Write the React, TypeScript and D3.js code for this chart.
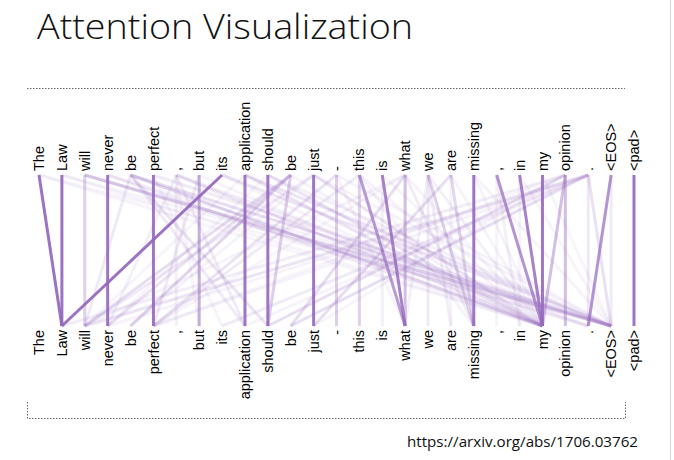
import React, { useEffect, useRef } from "react";
import * as d3 from "d3";

const tokens = [
  "The", "Law", "will", "never", "be", "perfect", ",", "but", "its", "application",
  "should", "be", "just", "-", "this", "is", "what", "we", "are", "missing",
  ",", "in", "my", "opinion", ".", "<EOS>", "<pad>",
];

// [from (top token), to (bottom token), attention weight]
const attention: [number, number, number][] = [
  // faint
  [6, 6, 0.1], [15, 15, 0.1], [18, 18, 0.08], [20, 21, 0.1], [21, 21, 0.08], [20, 20, 0.08],
  [6, 3, 0.1], [16, 2, 0.08], [13, 16, 0.08], [7, 22, 0.08], [8, 22, 0.08], [1, 22, 0.07],
  [0, 22, 0.07], [3, 25, 0.08], [11, 22, 0.08], [16, 22, 0.08], [17, 22, 0.1], [18, 22, 0.08],
  [19, 22, 0.08], [24, 5, 0.08], [23, 5, 0.07], [24, 3, 0.08], [6, 7, 0.07], [14, 19, 0.08],
  [17, 16, 0.1], [5, 8, 0.07], [13, 25, 0.08], [12, 25, 0.08], [10, 25, 0.1], [19, 25, 0.08],
  [1, 25, 0.07], [0, 25, 0.06], [14, 22, 0.08], [15, 22, 0.07], [9, 2, 0.07], [10, 3, 0.07],
  [12, 4, 0.08], [16, 5, 0.07], [21, 25, 0.07], [22, 25, 0.07], [24, 9, 0.08], [23, 12, 0.07],
  // light
  [4, 2, 0.14], [4, 9, 0.13], [14, 5, 0.13], [12, 2, 0.14], [24, 24, 0.15], [25, 25, 0.13],
  [17, 17, 0.14], [16, 19, 0.13], [24, 8, 0.13], [23, 1, 0.12], [3, 22, 0.13], [5, 25, 0.13],
  [6, 24, 0.12], [6, 9, 0.13], [7, 5, 0.14], [17, 18, 0.12],
  // light-medium
  [11, 3, 0.18], [4, 10, 0.18], [13, 5, 0.18], [2, 24, 0.16], [24, 2, 0.18], [6, 22, 0.17],
  [9, 22, 0.18], [10, 22, 0.18], [12, 22, 0.18], [8, 25, 0.17], [9, 25, 0.17],
  [11, 2, 0.22], [16, 11, 0.22], [18, 12, 0.22], [24, 11, 0.22], [23, 10, 0.22], [4, 25, 0.22],
  [24, 25, 0.2],
  // medium
  [2, 2, 0.3], [13, 13, 0.32], [14, 14, 0.3], [2, 25, 0.28], [4, 22, 0.28], [11, 10, 0.32],
  [11, 4, 0.28], [17, 19, 0.3], [18, 19, 0.26],
  [16, 16, 0.42], [23, 23, 0.42], [23, 22, 0.42],
  [7, 7, 0.52],
  // strong
  [14, 16, 0.65], [20, 22, 0.7], [25, 24, 0.7],
  [15, 16, 0.82], [21, 22, 0.82],
  [0, 1, 0.92], [1, 1, 0.92], [3, 3, 0.9], [5, 5, 0.9], [8, 1, 0.92], [9, 9, 0.9],
  [10, 10, 0.9], [12, 12, 0.9], [19, 19, 0.9], [22, 22, 0.9], [26, 26, 0.9],
];

const title = "Attention Visualization";
const source = "https://arxiv.org/abs/1706.03762";

const W = 674;
const H = 460;

export default function App() {
  const ref = useRef<SVGSVGElement>(null);

  useEffect(() => {
    const svg = d3.select(ref.current);
    svg.selectAll("*").remove();

    const x = d3
      .scalePoint<number>()
      .domain(d3.range(tokens.length))
      .range([39, 634]);
    const y = d3.scaleLinear().domain([0, 1]).range([175, 326]);
    const color = "#9467bd";

    svg.append("rect").attr("width", W).attr("height", H).attr("fill", "#fff");

    // right slide edge
    svg
      .append("line")
      .attr("x1", 670.5).attr("x2", 670.5).attr("y1", 0).attr("y2", H)
      .attr("stroke", "#d6d6d6").attr("stroke-width", 1);

    // title
    svg
      .append("text")
      .attr("x", 37)
      .attr("y", 38.5)
      .attr("font-family", "'Open Sans', 'Noto Sans', sans-serif")
      .attr("font-weight", 300)
      .attr("font-size", 34)
      .attr("textLength", 376)
      .attr("lengthAdjust", "spacingAndGlyphs")
      .attr("fill", "#111")
      .text(title);

    // dotted frame
    const dash = "1.5,1.5";
    svg.append("line")
      .attr("x1", 27).attr("x2", 625).attr("y1", 88.5).attr("y2", 88.5)
      .attr("stroke", "#666").attr("stroke-dasharray", dash);
    svg.append("path")
      .attr("d", "M27.5,402 V418.5 H625.5 V402")
      .attr("fill", "none")
      .attr("stroke", "#666").attr("stroke-dasharray", dash);

    // attention lines
    const links = attention.slice().sort((a, b) => a[2] - b[2]);
    svg
      .append("g")
      .selectAll("line")
      .data(links)
      .join("line")
      .attr("x1", (d) => x(d[0])!)
      .attr("y1", y(0))
      .attr("x2", (d) => x(d[1])!)
      .attr("y2", y(1))
      .attr("stroke", color)
      .attr("stroke-width", 3)
      .attr("stroke-opacity", (d) => d[2]);

    const font = "'Liberation Sans', Arial, sans-serif";
    // top labels
    svg
      .append("g")
      .selectAll("text")
      .data(tokens)
      .join("text")
      .attr("transform", (_, i) => `translate(${x(i)},171) rotate(-90)`)
      .attr("dy", "0.35em")
      .attr("text-anchor", "start")
      .attr("font-family", font)
      .attr("font-size", 14.5)
      .attr("fill", "#000")
      .text((d) => d);

    // bottom labels
    svg
      .append("g")
      .selectAll("text")
      .data(tokens)
      .join("text")
      .attr("transform", (_, i) => `translate(${x(i)},330) rotate(-90)`)
      .attr("dy", "0.35em")
      .attr("text-anchor", "end")
      .attr("font-family", font)
      .attr("font-size", 14.5)
      .attr("fill", "#000")
      .text((d) => d);

    // source
    svg
      .append("text")
      .attr("x", 407)
      .attr("y", 447)
      .attr("font-family", "'Open Sans', 'Noto Sans', sans-serif")
      .attr("font-size", 15)
      .attr("textLength", 231)
      .attr("lengthAdjust", "spacingAndGlyphs")
      .attr("fill", "#111")
      .text(source);
  }, []);

  return (
    <svg
      ref={ref}
      width={W}
      height={H}
      style={{ position: "absolute", left: 0, top: 0, display: "block" }}
    />
  );
}
